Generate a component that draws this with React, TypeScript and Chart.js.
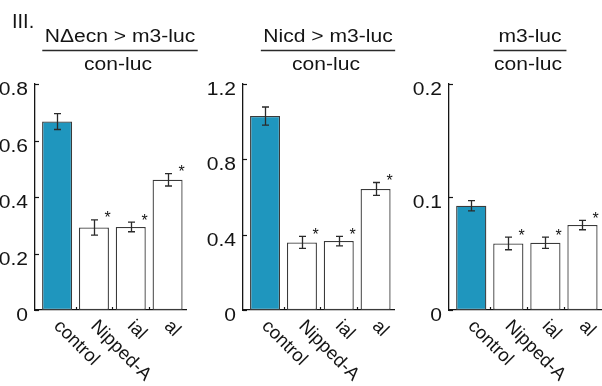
import React, { useEffect, useRef } from 'react';
import { Chart, registerables } from 'chart.js';

Chart.register(...registerables);

// ---- data ----
const categories = ['control', 'Nipped-A', 'ial', 'al'];
const significant = [false, true, true, true];

const necnValues = [0.667, 0.292, 0.294, 0.461];
const necnErrors = [0.028, 0.027, 0.017, 0.022];
const necnTicks = [0, 0.2, 0.4, 0.6, 0.8];
const necnTickLabels = ['0', '0.2', '0.4', '0.6', '0.8'];

const nicdValues = [1.03, 0.359, 0.366, 0.643];
const nicdErrors = [0.048, 0.032, 0.025, 0.034];
const nicdTicks = [0, 0.4, 0.8, 1.2];
const nicdTickLabels = ['0', '0.4', '0.8', '1.2'];

const m3Values = [0.0923, 0.0589, 0.0595, 0.0752];
const m3Errors = [0.0045, 0.0056, 0.005, 0.0042];
const m3Ticks = [0, 0.1, 0.2];
const m3TickLabels = ['0', '0.1', '0.2'];

const numerators = ['N\u0394ecn > m3-luc', 'Nicd > m3-luc', 'm3-luc'];
const denominator = 'con-luc';
const panelLabel = 'III.';

// ---- styling / layout ----
const TEAL = '#1f96be';
const INK = '#141414';
const FONT = "'Liberation Sans', Arial, Helvetica, sans-serif";
const STRETCH = 1.17;
const H = 386;

type Panel = {
  values: number[];
  errors: number[];
  ticks: number[];
  tickLabels: string[];
  numerator: string;
  left: number;
  width: number;
  axisWidth: number;
  padRight: number;
  titleX: number;
  showLabel: boolean;
};

const panels: Panel[] = [
  { values: necnValues, errors: necnErrors, ticks: necnTicks, tickLabels: necnTickLabels, numerator: numerators[0], left: 0, width: 200, axisWidth: 35, padRight: 14, titleX: 120, showLabel: true },
  { values: nicdValues, errors: nicdErrors, ticks: nicdTicks, tickLabels: nicdTickLabels, numerator: numerators[1], left: 200, width: 200, axisWidth: 43, padRight: 6, titleX: 128, showLabel: false },
  { values: m3Values, errors: m3Errors, ticks: m3Ticks, tickLabels: m3TickLabels, numerator: numerators[2], left: 400, width: 202, axisWidth: 49, padRight: 1, titleX: 130, showLabel: false },
];

function stretchedText(ctx: CanvasRenderingContext2D, text: string, x: number, y: number, align: 'left' | 'right' | 'center') {
  const w = ctx.measureText(text).width * STRETCH;
  let x0 = x;
  if (align === 'right') x0 = x - w;
  else if (align === 'center') x0 = x - w / 2;
  ctx.save();
  ctx.translate(x0, y);
  ctx.scale(STRETCH, 1);
  ctx.textAlign = 'left';
  ctx.fillText(text, 0, 0);
  ctx.restore();
  return w;
}

function makeDecor(p: Panel) {
  return {
    id: 'decor',
    afterDraw(chart: any) {
      const ctx: CanvasRenderingContext2D = chart.ctx;
      const xs = chart.scales.x;
      const ys = chart.scales.y;
      const area = chart.chartArea;
      ctx.save();
      ctx.fillStyle = INK;
      ctx.strokeStyle = INK;

      // y ticks + labels
      ctx.font = `18px ${FONT}`;
      ctx.textBaseline = 'alphabetic';
      ctx.lineWidth = 1.2;
      p.ticks.forEach((t, i) => {
        const py = Math.round(ys.getPixelForValue(t)) + 0.5;
        ctx.beginPath();
        ctx.moveTo(area.left, py);
        ctx.lineTo(area.left + 4, py);
        ctx.stroke();
        stretchedText(ctx, p.tickLabels[i], area.left - 7, py + 10, 'right');
      });

      // small x ticks between bars
      [1.5, 2.5, 3.5].forEach((v) => {
        const px = Math.round(xs.getPixelForValue(v)) + 0.5;
        ctx.beginPath();
        ctx.moveTo(px, area.bottom);
        ctx.lineTo(px, area.bottom - 3);
        ctx.stroke();
      });

      // error bars + asterisks
      ctx.strokeStyle = '#2a2a2a';
      ctx.lineWidth = 1.3;
      p.values.forEach((v, i) => {
        const cx = Math.round(xs.getPixelForValue(i + 1)) + 0.5;
        const top = ys.getPixelForValue(v + p.errors[i]);
        const bot = ys.getPixelForValue(v - p.errors[i]);
        ctx.beginPath();
        ctx.moveTo(cx, top);
        ctx.lineTo(cx, bot);
        ctx.moveTo(cx - 3.5, top);
        ctx.lineTo(cx + 3.5, top);
        ctx.moveTo(cx - 3.5, bot);
        ctx.lineTo(cx + 3.5, bot);
        ctx.stroke();
        if (significant[i]) {
          ctx.font = `16px ${FONT}`;
          ctx.textAlign = 'center';
          ctx.textBaseline = 'middle';
          ctx.fillText('*', cx + 13, top - 1);
        }
      });

      // rotated category labels
      ctx.font = `18.5px ${FONT}`;
      ctx.textAlign = 'left';
      ctx.textBaseline = 'alphabetic';
      categories.forEach((c, i) => {
        const cx = xs.getPixelForValue(i + 1);
        ctx.save();
        ctx.translate(cx - 4, 327);
        ctx.rotate(Math.PI / 4);
        ctx.fillText(c, 0, 0);
        ctx.restore();
      });

      // title fraction
      ctx.font = `18px ${FONT}`;
      ctx.textBaseline = 'alphabetic';
      const nw = ctx.measureText(p.numerator).width * STRETCH;
      const dw = ctx.measureText(denominator).width * STRETCH;
      stretchedText(ctx, p.numerator, p.titleX, 42, 'center');
      stretchedText(ctx, denominator, p.titleX - 2, 70, 'center');
      const lw = Math.max(nw, dw) + 5;
      ctx.lineWidth = 1.3;
      ctx.beginPath();
      ctx.moveTo(p.titleX - lw / 2, 50.5);
      ctx.lineTo(p.titleX + lw / 2, 50.5);
      ctx.stroke();

      if (p.showLabel) {
        ctx.font = `20px ${FONT}`;
        ctx.textAlign = 'left';
        ctx.fillText(panelLabel, 12, 28);
      }
      ctx.restore();
    },
  };
}

function BarPanel({ p }: { p: Panel }) {
  const ref = useRef<HTMLCanvasElement | null>(null);
  useEffect(() => {
    if (!ref.current) return;
    const chart = new Chart(ref.current, {
      type: 'bar',
      data: {
        datasets: [
          {
            data: p.values.map((v, i) => ({ x: i + 1, y: v })),
            backgroundColor: p.values.map((_, i) => (i === 0 ? TEAL : '#ffffff')),
            borderColor: '#3a3a3a',
            borderWidth: 1.3,
            borderSkipped: false,
            barPercentage: 0.815,
            categoryPercentage: 1,
          } as any,
        ],
      },
      options: {
        responsive: false,
        animation: false,
        devicePixelRatio: 1,
        layout: { padding: { top: 84, right: p.padRight, left: 0, bottom: 0 } },
        plugins: { legend: { display: false }, tooltip: { enabled: false } },
        scales: {
          x: {
            type: 'linear',
            min: 0.4,
            max: 4.5,
            offset: false,
            grid: { display: false },
            ticks: { display: false },
            border: { display: true, color: INK, width: 1.3 },
            afterFit: (s: any) => {
              s.height = 76;
            },
          },
          y: {
            type: 'linear',
            min: 0,
            max: p.ticks[p.ticks.length - 1],
            grid: { display: false },
            ticks: { display: false },
            border: { display: true, color: INK, width: 1.3 },
            afterFit: (s: any) => {
              s.width = p.axisWidth;
            },
          },
        },
      } as any,
      plugins: [makeDecor(p)],
    });
    return () => chart.destroy();
  }, [p]);
  return (
    <canvas
      ref={ref}
      width={p.width}
      height={H}
      style={{ position: 'absolute', left: p.left, top: 0, width: p.width, height: H }}
    />
  );
}

export default function App() {
  return (
    <div style={{ position: 'absolute', left: 0, top: 0, width: 602, height: H, background: '#fff' }}>
      {panels.map((p, i) => (
        <BarPanel key={i} p={p} />
      ))}
    </div>
  );
}
